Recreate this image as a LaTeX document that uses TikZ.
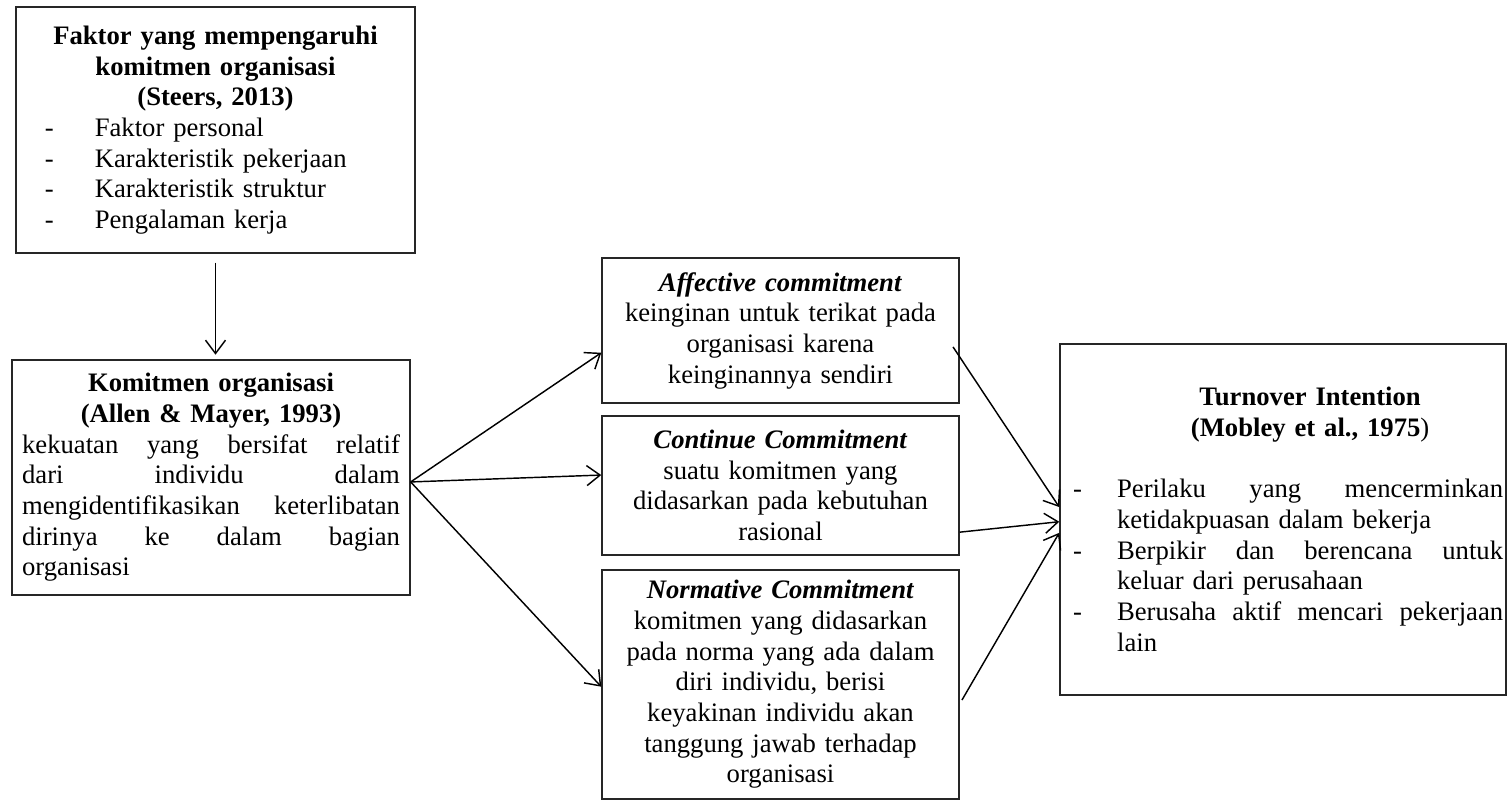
\documentclass[tikz,border=0pt]{standalone}
\usepackage{fontspec}
\setmainfont{Liberation Serif}
\usetikzlibrary{arrows.meta}
\newcommand{\fitem}[1]{\makebox[179.6pt][l]{\hspace*{13pt}\makebox[22.5pt][l]{-}#1}}
\newcommand{\titem}[1]{\makebox[200.7pt][l]{\hspace*{5.9pt}\makebox[19.8pt][l]{-}#1}}
\newcommand{\tnext}[1]{\makebox[200.7pt][l]{\hspace*{25.7pt}#1}}
\newcommand{\jline}[2]{\leavevmode\hbox to #1{\spaceskip=0.25em plus 1fil\relax #2}}
\begin{document}
\begin{tikzpicture}
[x=0.45pt,y=-0.45pt,
box/.style={draw=black!85,line width=0.7pt,inner sep=0pt,align=center,font=\fontsize{12pt}{13.8pt}\selectfont},
arr/.style={line width=0.65pt,-{Straight Barb[length=6pt,width=9pt]}}]
\useasboundingbox (0,0) rectangle (1508,800);
\node [box,text width=179.6pt,minimum height=110.7pt] (faktor) at (215.5,130) {\textbf{Faktor yang mempengaruhi}\\ \textbf{komitmen organisasi}\\ \textbf{(Steers, 2013)}\\
\fitem{Faktor personal}\\ \fitem{Karakteristik pekerjaan}\\ \fitem{Karakteristik struktur}\\ \fitem{Pengalaman kerja}};
\node [box,text width=170pt,inner xsep=4.5pt,minimum height=105.8pt] (komitmen) at (211,477.5) {\textbf{Komitmen organisasi}\\ \textbf{(Allen \& Mayer, 1993)}\\
\jline{170pt}{kekuatan yang bersifat relatif}\\ \jline{170pt}{dari individu dalam}\\ \jline{170pt}{mengidentifikasikan keterlibatan}\\ \jline{170pt}{dirinya ke dalam bagian}\\ \makebox[170pt][l]{organisasi}};
\node [box,text width=160.6pt,minimum height=65.3pt] (affective) at (780.5,330.5) {\textbf{\textit{Affective commitment}}\\ keinginan untuk terikat pada\\ organisasi karena\\ keinginannya sendiri};
\node [box,text width=160.6pt,minimum height=62.6pt] (continue) at (780.5,485.5) {\textbf{\textit{Continue Commitment}}\\ suatu komitmen yang\\ didasarkan pada kebutuhan\\ rasional};
\node [box,text width=160.6pt,minimum height=103pt] (normative) at (780.5,684.5) {\textbf{\textit{Normative Commitment}}\\ komitmen yang didasarkan\\ pada norma yang ada dalam\\ diri individu, berisi\\ keyakinan individu akan\\ tanggung jawab terhadap\\ organisasi};
\node [box,text width=200.7pt,minimum height=158pt] (turnover) at (1283,519.5) {\tnext{\makebox[173.7pt]{\textbf{Turnover Intention}}}\\ \tnext{\makebox[173.7pt]{\textbf{(Mobley et al., 1975})}}\\ \mbox{}\\
\titem{\jline{173.7pt}{Perilaku yang mencerminkan}}\\ \tnext{ketidakpuasan dalam bekerja}\\
\titem{\jline{173.7pt}{Berpikir dan berencana untuk}}\\ \tnext{keluar dari perusahaan}\\
\titem{\jline{173.7pt}{Berusaha aktif mencari pekerjaan}}\\ \tnext{lain}};
\draw [arr] ([yshift=-4pt]faktor.south) -- ([yshift=2pt]faktor.south |- komitmen.north);
\draw [arr] ([yshift=-2pt]komitmen.east) -- ([yshift=-10pt]affective.west);
\draw [arr] ([yshift=-2pt]komitmen.east) -- ([yshift=4.7pt]continue.west);
\draw [arr] ([yshift=-2pt]komitmen.east) -- ([yshift=-1pt]normative.west);
\draw [arr] ([xshift=-3pt,yshift=-7.4pt]affective.east) -- ([yshift=5.6pt]turnover.west);
\draw [arr] ([yshift=-21pt]continue.east) -- ([yshift=-1pt]turnover.west);
\draw [arr] ([xshift=1pt,yshift=-7pt]normative.east) -- ([yshift=-6pt]turnover.west);
\end{tikzpicture}
\end{document}
